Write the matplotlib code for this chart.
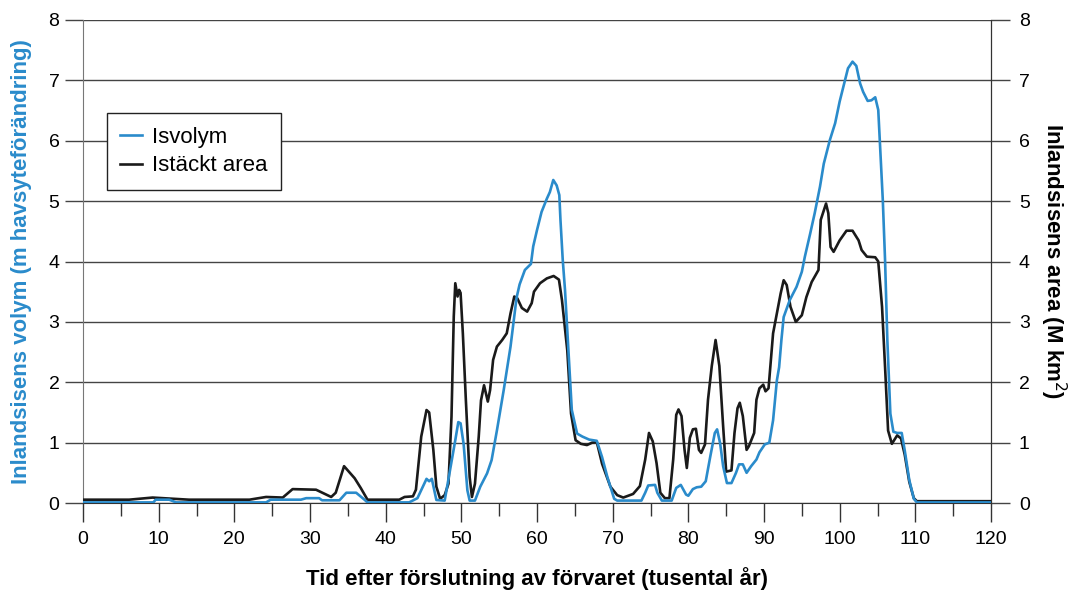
import matplotlib.pyplot as plt
from matplotlib.ticker import MultipleLocator

plt.rcParams['font.family'] = ['Liberation Sans', 'DejaVu Sans']
plt.rcParams['font.size'] = 14

BLUE = '#2a8bcb'
BLACK = '#1a1a1a'

# Isvolym (m havsyteförändring)
t_vol = [0, 9.3, 9.6, 11.4, 12.3, 24.2, 24.8, 28.8, 29.5, 31.2, 31.6, 33.9, 34.8, 36.1,
         37.2, 37.6, 43.1, 44.2, 45.4, 45.75, 46.1, 46.7, 47.8, 48.5, 49.2, 49.6, 49.9,
         50.3, 50.8, 51.1, 51.8, 52.5, 53.4, 54.0, 54.7, 55.6, 56.5, 57.3, 57.7, 58.4,
         59.2, 59.5, 60.0, 60.6, 61.3, 61.7, 62.15, 62.6, 62.95, 63.1, 63.4, 63.7, 64.6,
         65.3, 66.0, 66.9, 67.9, 68.6, 69.3, 70.2, 70.6, 73.8, 74.3, 74.7, 75.6, 75.9,
         76.5, 77.8, 78.4, 79.0, 79.7, 80.0, 80.6, 81.1, 81.7, 82.3, 82.9, 83.5, 83.8,
         84.2, 84.6, 85.1, 85.7, 86.3, 86.7, 87.2, 87.7, 88.3, 89.0, 89.4, 90.1, 90.7,
         91.2, 91.7, 92.0, 92.3, 92.6, 93.4, 94.3, 95.0, 95.4, 96.1, 96.7, 97.4, 97.9,
         98.7, 99.4, 100.0, 100.6, 101.1, 101.7, 102.2, 102.7, 103.1, 103.7, 104.2,
         104.7, 105.1, 105.3, 105.7, 106.0, 106.3, 106.7, 107.1, 107.6, 108.2, 108.6,
         109.2, 109.8, 110.2, 120]
vol = [0.01, 0.01, 0.055, 0.055, 0.01, 0.01, 0.055, 0.055, 0.08, 0.08, 0.045, 0.045, 0.17, 0.17,
       0.055, 0.01, 0.01, 0.08, 0.40, 0.36, 0.40, 0.05, 0.04, 0.54, 1.04, 1.34, 1.32,
       0.98, 0.21, 0.04, 0.04, 0.27, 0.49, 0.71, 1.20, 1.87, 2.59, 3.40, 3.62, 3.86,
       3.96, 4.25, 4.52, 4.82, 5.04, 5.15, 5.35, 5.26, 5.10, 4.69, 4.03, 3.53, 1.54,
       1.15, 1.10, 1.05, 1.03, 0.76, 0.43, 0.07, 0.04, 0.04, 0.17, 0.29, 0.30, 0.17,
       0.04, 0.04, 0.25, 0.30, 0.14, 0.12, 0.23, 0.26, 0.27, 0.36, 0.77, 1.16, 1.22,
       0.99, 0.61, 0.33, 0.33, 0.50, 0.64, 0.64, 0.50, 0.61, 0.72, 0.84, 0.97, 1.00,
       1.37, 2.03, 2.25, 2.70, 3.08, 3.36, 3.58, 3.83, 4.08, 4.46, 4.80, 5.24, 5.62,
       6.01, 6.29, 6.65, 6.95, 7.20, 7.31, 7.24, 6.95, 6.81, 6.66, 6.67,
       6.72, 6.51, 6.01, 5.02, 4.02, 2.70, 1.48, 1.18, 1.16, 1.16, 0.87,
       0.38, 0.07, 0.01, 0.01]

# Istäckt area (M km2)
t_area = [0, 6.1, 9.2, 11.9, 14.0, 22.0, 24.2, 26.4, 27.7, 30.8, 32.8, 33.4, 34.5, 35.9,
          36.7, 37.6, 41.8, 42.5, 43.6, 44.0, 44.7, 45.4, 45.75, 46.3, 46.7, 47.2, 47.8,
          48.3, 48.7, 49.0, 49.2, 49.5, 49.7, 49.9, 50.2, 50.6, 51.1, 51.4, 51.8, 52.3,
          52.6, 53.0, 53.5, 53.8, 54.2, 54.7, 55.4, 56.0, 56.5, 57.0, 57.4, 58.0, 58.7,
          59.3, 59.6, 60.4, 61.3, 62.2, 62.9, 63.3, 64.0, 64.5, 65.1, 65.8, 66.6, 67.3,
          67.9, 68.6, 69.7, 70.6, 71.4, 72.7, 73.6, 74.3, 74.8, 75.3, 75.8, 76.3, 76.9,
          77.5, 78.0, 78.4, 78.7, 79.1, 79.5, 79.8, 80.2, 80.6, 81.0, 81.4, 81.7, 82.2,
          82.6, 83.1, 83.6, 84.1, 84.6, 85.0, 85.7, 86.1, 86.5, 86.8, 87.2, 87.7, 88.0,
          88.7, 89.0, 89.4, 89.9, 90.2, 90.6, 91.2, 91.7, 92.2, 92.6, 93.0, 93.5, 94.2,
          95.0, 95.6, 96.3, 97.2, 97.5, 98.2, 98.5, 98.8, 99.2, 100.0, 100.9, 101.7,
          102.5, 102.9, 103.6, 104.7, 105.1, 105.6, 106.0, 106.4, 106.9, 107.6, 108.1,
          108.6, 109.2, 109.8, 110.2, 120]
area = [0.055, 0.055, 0.09, 0.07, 0.055, 0.055, 0.10, 0.09, 0.23, 0.22, 0.10, 0.17, 0.61, 0.41,
        0.25, 0.055, 0.055, 0.10, 0.11, 0.22, 1.10, 1.54, 1.50, 0.88, 0.27, 0.07, 0.13,
        0.32, 1.43, 3.09, 3.64, 3.42, 3.53, 3.48, 2.81, 1.70, 0.43, 0.10, 0.32, 1.10,
        1.70, 1.95, 1.68, 1.87, 2.37, 2.59, 2.70, 2.81, 3.14, 3.42, 3.39, 3.23, 3.17,
        3.31, 3.50, 3.64, 3.72, 3.76, 3.70, 3.36, 2.53, 1.48, 1.04, 0.98, 0.96, 1.00,
        1.01, 0.65, 0.27, 0.13, 0.09, 0.15, 0.28, 0.72, 1.16, 1.02, 0.66, 0.17, 0.08,
        0.08, 0.72, 1.46, 1.55, 1.44, 0.88, 0.58, 1.08, 1.22, 1.23, 0.88, 0.83, 0.97,
        1.71, 2.27, 2.70, 2.27, 1.27, 0.52, 0.54, 1.16, 1.57, 1.66, 1.44, 0.88, 0.94,
        1.16, 1.71, 1.90, 1.96, 1.85, 1.90, 2.81, 3.14, 3.47, 3.69, 3.61, 3.25, 3.00,
        3.11, 3.41, 3.66, 3.86, 4.69, 4.96, 4.80, 4.24, 4.16, 4.35, 4.51, 4.51,
        4.35, 4.19, 4.08, 4.07, 4.00, 3.25, 2.25, 1.20, 0.98, 1.12, 1.07,
        0.80, 0.35, 0.08, 0.03, 0.03]

fig = plt.figure(figsize=(10.72, 5.92), dpi=100)
ax = fig.add_axes([83 / 1072, 1 - 503 / 592, 908 / 1072, 483 / 592])
ax2 = ax.twinx()

ax.plot(t_area, area, color=BLACK, lw=1.9, label='Istäckt area', zorder=3)
ax.plot(t_vol, vol, color=BLUE, lw=1.9, label='Isvolym', zorder=4)

for a in (ax, ax2):
    a.set_ylim(0, 8)
    a.yaxis.set_major_locator(MultipleLocator(1))
    a.spines['top'].set_visible(False)
ax.set_xlim(0, 120)
ax.xaxis.set_major_locator(MultipleLocator(10))
ax.xaxis.set_minor_locator(MultipleLocator(5))

ax.grid(axis='y', color='#444444', lw=1.0)
ax.set_axisbelow(True)

ax.tick_params(axis='x', which='major', length=14, width=1, color='#333333', pad=6)
ax.tick_params(axis='x', which='minor', length=9, width=1, color='#333333')
ax.tick_params(axis='y', length=13, width=1, color='#444444', pad=4)
ax2.tick_params(axis='y', length=14, width=1, color='#444444', pad=6)
ax.spines['left'].set_color('#777777')
ax.spines['bottom'].set_color('#333333')
ax2.spines['right'].set_color('#333333')
ax2.spines['left'].set_visible(False)
ax2.spines['bottom'].set_visible(False)

ax.set_xlabel('Tid efter förslutning av förvaret (tusental år)', fontsize=16,
              fontweight='bold', labelpad=14)
ax.set_ylabel('Inlandsisens volym (m havsyteförändring)', fontsize=16,
              fontweight='bold', color=BLUE, labelpad=12)
ax2.set_ylabel('Inlandsisens area (M km$^2$)', fontsize=16, fontweight='bold',
               rotation=270, labelpad=28)

handles, labels = ax.get_legend_handles_labels()
leg = ax.legend(handles[::-1], labels[::-1], loc='upper left',
                bbox_to_anchor=(0.026, 0.807), borderaxespad=0, fontsize=16,
                fancybox=False, framealpha=1, edgecolor='#222222',
                handlelength=1.0, handletextpad=0.45, borderpad=0.6, labelspacing=0.35)
leg.get_frame().set_linewidth(1.0)

fig.savefig('out.png', dpi=100)
